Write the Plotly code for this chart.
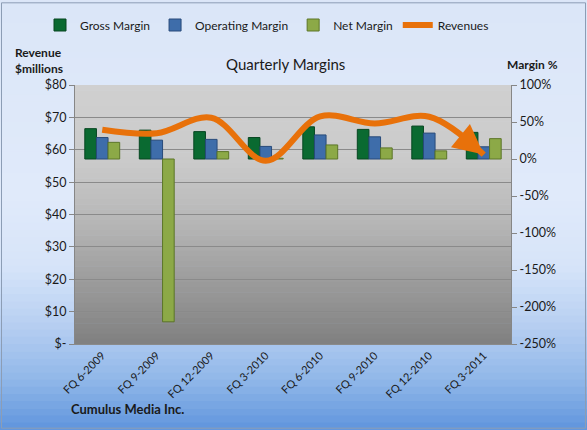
import plotly.graph_objects as go

quarters = ["FQ 6-2009", "FQ 9-2009", "FQ 12-2009", "FQ 3-2010",
            "FQ 6-2010", "FQ 9-2010", "FQ 12-2010", "FQ 3-2011"]
gross_margin = [41.0, 39.0, 37.0, 29.0, 43.5, 40.0, 44.5, 36.0]
operating_margin = [29.0, 25.5, 26.5, 17.0, 32.5, 30.0, 35.0, 16.5]
net_margin = [22.5, -220.0, 10.0, 1.0, 19.0, 15.0, 11.0, 27.5]
revenues = [66.2, 65.1, 69.9, 56.6, 70.3, 68.1, 70.2, 58.5]

rev_tickvals = [0, 10, 20, 30, 40, 50, 60, 70, 80]
rev_ticktext = ["$-", "$10", "$20", "$30", "$40", "$50", "$60", "$70", "$80"]
pct_tickvals = [-250, -200, -150, -100, -50, 0, 50, 100]
pct_ticktext = ["-250%", "-200%", "-150%", "-100%", "-50%", "0%", "50%", "100%"]

W, H = 587, 430
ML, MR, MT, MB = 75, 76, 84, 86
PW, PH = W - ML - MR, H - MT - MB

FONT = "Lato, 'Open Sans', sans-serif"
ORANGE = "#E8710A"


def px2x(xp):
    return (xp - ML) / PW


def px2y(yp):
    return (H - MB - yp) / PH


def lerp_color(stops, t):
    for i in range(len(stops) - 1):
        t0, c0 = stops[i]
        t1, c1 = stops[i + 1]
        if t0 <= t <= t1:
            f = 0 if t1 == t0 else (t - t0) / (t1 - t0)
            c = [round(c0[k] + (c1[k] - c0[k]) * f) for k in range(3)]
            return "rgb(%d,%d,%d)" % tuple(c)
    c = stops[-1][1]
    return "rgb(%d,%d,%d)" % tuple(c)


shapes = []
# paper gradient (top -> bottom of the whole figure)
paper_stops = [
    (0.0, (219, 230, 248)),
    (0.45, (224, 234, 250)),
    (0.62, (214, 228, 249)),
    (0.75, (184, 208, 242)),
    (0.88, (146, 184, 233)),
    (1.0, (95, 149, 221)),
]
N = 60
for i in range(N):
    t0 = i / N
    t1 = (i + 1) / N
    shapes.append(dict(type="rect", xref="paper", yref="paper", layer="below",
                       x0=px2x(-2), x1=px2x(W + 2),
                       y0=px2y(t1 * H) - 0.002, y1=px2y(t0 * H),
                       fillcolor=lerp_color(paper_stops, (t0 + t1) / 2),
                       line=dict(width=0)))
# plot-area gradient
plot_stops = [
    (0.0, (208, 208, 208)),
    (0.3, (202, 202, 202)),
    (0.55, (180, 180, 180)),
    (0.8, (151, 151, 151)),
    (1.0, (128, 128, 128)),
]
M = 50
for i in range(M):
    t0 = i / M
    t1 = (i + 1) / M
    shapes.append(dict(type="rect", xref="paper", yref="paper", layer="below",
                       x0=0, x1=1, y0=1 - t1 - 0.002, y1=1 - t0,
                       fillcolor=lerp_color(plot_stops, (t0 + t1) / 2),
                       line=dict(width=0)))
# outer border
shapes.append(dict(type="rect", xref="paper", yref="paper", layer="above",
                   x0=px2x(1.5), x1=px2x(W - 1.5), y0=px2y(H - 1.5), y1=px2y(1.5),
                   line=dict(color="#8C9DB5", width=1), fillcolor="rgba(0,0,0,0)"))

fig = go.Figure()
fig.add_trace(go.Bar(x=quarters, y=gross_margin, name="Gross Margin",
                     marker=dict(color="#0A6A31", line=dict(color="#064621", width=1))))
fig.add_trace(go.Bar(x=quarters, y=operating_margin, name="Operating Margin",
                     marker=dict(color="#3E6DAA", line=dict(color="#284B7A", width=1))))
fig.add_trace(go.Bar(x=quarters, y=net_margin, name="Net Margin",
                     marker=dict(color="#8CA947", line=dict(color="#5C7628", width=1))))
fig.add_trace(go.Scatter(x=quarters, y=revenues, name="Revenues", yaxis="y2",
                         mode="lines",
                         line=dict(color=ORANGE, width=6, shape="spline", smoothing=1.0)))

annotations = [
    dict(text="Quarterly Margins", xref="paper", yref="paper",
         x=px2x(285), y=px2y(63), xanchor="center", yanchor="middle",
         showarrow=False, font=dict(size=15, family=FONT, color="#1a1a1a")),
    dict(text="<b>Revenue</b><br><b>$millions</b>", xref="paper", yref="paper",
         x=px2x(13), y=px2y(59), xanchor="left", yanchor="middle", align="left",
         showarrow=False, font=dict(size=12, family=FONT, color="#1a1a1a")),
    dict(text="<b>Margin %</b>", xref="paper", yref="paper",
         x=px2x(532), y=px2y(63), xanchor="center", yanchor="middle",
         showarrow=False, font=dict(size=12, family=FONT, color="#1a1a1a")),
    dict(text="<b>Cumulus Media Inc.</b>", xref="paper", yref="paper",
         x=px2x(69), y=px2y(409), xanchor="left", yanchor="middle",
         showarrow=False, font=dict(size=13, family=FONT, color="#1a1a1a")),
    # arrowhead at the end of the revenue line
    dict(text="", xref="x", yref="y2", x=quarters[-1], y=revenues[-1],
         ax=-16, ay=-13, axref="pixel", ayref="pixel",
         showarrow=True, arrowhead=2, arrowsize=1.0, arrowwidth=6,
         arrowcolor=ORANGE, standoff=0),
]

fig.update_layout(
    width=W, height=H,
    margin=dict(l=ML, r=MR, t=MT, b=MB),
    paper_bgcolor="#DCE6F8",
    plot_bgcolor="rgba(0,0,0,0)",
    font=dict(family=FONT, size=12, color="#1a1a1a"),
    barmode="group", bargap=0.36, bargroupgap=0.0,
    shapes=shapes,
    showlegend=True,
    legend=dict(orientation="h", x=px2x(40), xanchor="left",
                y=px2y(25), yanchor="middle",
                font=dict(size=12, family=FONT, color="#1a1a1a"),
                bgcolor="rgba(0,0,0,0)", itemwidth=30, traceorder="normal"),
    xaxis=dict(type="category", tickangle=-45, automargin=False,
               tickfont=dict(size=11, family=FONT, color="#1a1a1a"),
               showline=True, linecolor="#8A8A8A", ticks="", showgrid=False),
    yaxis=dict(side="right", range=[-250, 100], tickvals=pct_tickvals,
               ticktext=pct_ticktext, showgrid=False, zeroline=False,
               showline=True, linecolor="#868686", ticks="outside", ticklen=5,
               tickcolor="#868686", automargin=False,
               tickfont=dict(size=12.5, family=FONT, color="#1a1a1a")),
    yaxis2=dict(side="left", overlaying="y", range=[0, 80], tickvals=rev_tickvals,
                ticktext=rev_ticktext, showgrid=True, gridcolor="#8A8A8A", gridwidth=1,
                zeroline=False, showline=True, linecolor="#868686", ticks="outside",
                ticklen=5, tickcolor="#868686", automargin=False,
                tickfont=dict(size=12.5, family=FONT, color="#1a1a1a")),
    annotations=annotations,
)

fig.write_html("out.html")
